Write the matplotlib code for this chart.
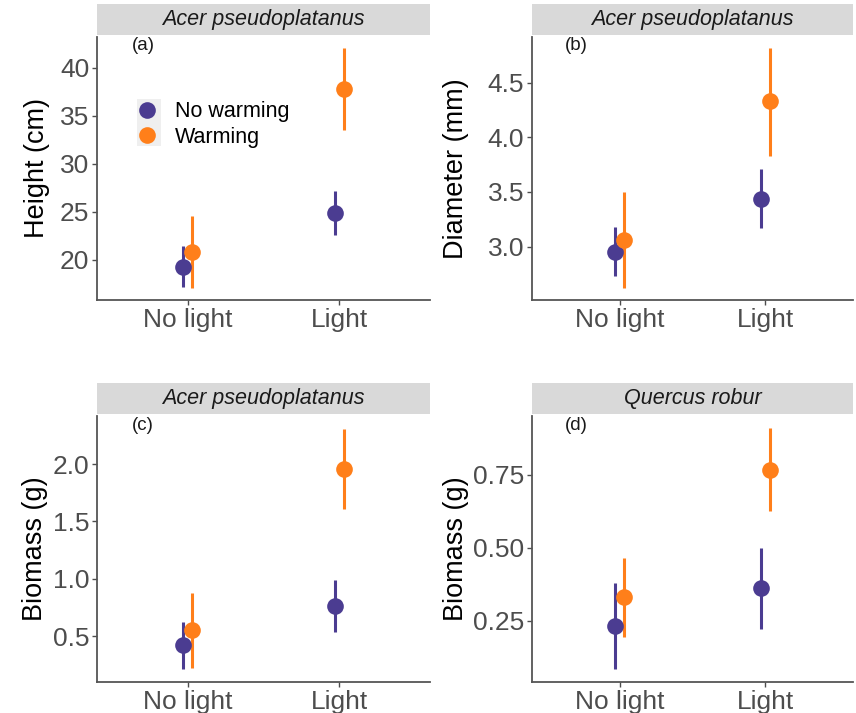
import numpy as np
import matplotlib
matplotlib.use("Agg")
import matplotlib.pyplot as plt
from matplotlib.patches import Rectangle

plt.rcParams['font.family'] = ['Liberation Sans', 'DejaVu Sans']

categories = ["No light", "Light"]
groups = ["No warming", "Warming"]
colors = {"No warming": "#4B3C91", "Warming": "#FF7F1A"}

# panel (a) height
height_mean = {"No warming": [19.2, 24.9], "Warming": [20.8, 37.8]}
height_lo = {"No warming": [17.2, 22.6], "Warming": [17.0, 33.5]}
height_hi = {"No warming": [21.4, 27.2], "Warming": [24.6, 42.1]}

# panel (b) diameter
diam_mean = {"No warming": [2.95, 3.44], "Warming": [3.06, 4.33]}
diam_lo = {"No warming": [2.73, 3.17], "Warming": [2.62, 3.83]}
diam_hi = {"No warming": [3.18, 3.71], "Warming": [3.50, 4.82]}

# panel (c) biomass acer
bio_acer_mean = {"No warming": [0.42, 0.76], "Warming": [0.55, 1.96]}
bio_acer_lo = {"No warming": [0.21, 0.54], "Warming": [0.22, 1.61]}
bio_acer_hi = {"No warming": [0.62, 0.99], "Warming": [0.88, 2.31]}

# panel (d) biomass quercus
bio_quer_mean = {"No warming": [0.233, 0.363], "Warming": [0.332, 0.767]}
bio_quer_lo = {"No warming": [0.085, 0.222], "Warming": [0.195, 0.627]}
bio_quer_hi = {"No warming": [0.38, 0.50], "Warming": [0.465, 0.91]}

panels = [
    dict(title="Acer pseudoplatanus", tag="(a)", ylabel="Height (cm)",
         mean=height_mean, lo=height_lo, hi=height_hi,
         ylim=(15.8, 43.2), yticks=[20, 25, 30, 35, 40], fmt="{:.0f}",
         rect=[97, 37, 430, 300], labx=37),
    dict(title="Acer pseudoplatanus", tag="(b)", ylabel="Diameter (mm)",
         mean=diam_mean, lo=diam_lo, hi=diam_hi,
         ylim=(2.51, 4.92), yticks=[3.0, 3.5, 4.0, 4.5], fmt="{:.1f}",
         rect=[532, 37, 853, 300], labx=456),
    dict(title="Acer pseudoplatanus", tag="(c)", ylabel="Biomass (g)",
         mean=bio_acer_mean, lo=bio_acer_lo, hi=bio_acer_hi,
         ylim=(0.10, 2.42), yticks=[0.5, 1.0, 1.5, 2.0], fmt="{:.1f}",
         rect=[97, 416, 430, 682], labx=35),
    dict(title="Quercus robur", tag="(d)", ylabel="Biomass (g)",
         mean=bio_quer_mean, lo=bio_quer_lo, hi=bio_quer_hi,
         ylim=(0.041, 0.952), yticks=[0.25, 0.50, 0.75], fmt="{:.2f}",
         rect=[532, 416, 853, 682], labx=456),
]

W, H = 856, 713
fig = plt.figure(figsize=(W / 100, H / 100), dpi=100)
dodge = {"No warming": -0.03, "Warming": 0.03}
xpos = np.arange(1, len(categories) + 1)

for p in panels:
    x0, y0, x1, y1 = p["rect"]
    ax = fig.add_axes([x0 / W, 1 - y1 / H, (x1 - x0) / W, (y1 - y0) / H])
    for g in groups:
        m = np.array(p["mean"][g])
        lo = np.array(p["lo"][g])
        hi = np.array(p["hi"][g])
        xs = xpos + dodge[g]
        ax.vlines(xs, lo, hi, color=colors[g], lw=2.2, zorder=2)
        ax.plot(xs, m, "o", color=colors[g], ms=12, mec="none", zorder=3, label=g)
    ax.set_xlim(0.4, 2.6)
    ax.set_ylim(*p["ylim"])
    ax.set_xticks(xpos)
    ax.set_xticklabels(categories)
    ax.set_yticks(p["yticks"])
    ax.set_yticklabels([p["fmt"].format(v) for v in p["yticks"]])
    ax.tick_params(axis="both", labelsize=19, colors="#4D4D4D", length=3.5,
                   width=1, pad=2)
    for s in ["top", "right"]:
        ax.spines[s].set_visible(False)
    for s in ["left", "bottom"]:
        ax.spines[s].set_color("#555555")
        ax.spines[s].set_linewidth(1.3)
    ax.set_ylabel(p["ylabel"], fontsize=19.5, color="black", va="center")
    ax.yaxis.set_label_coords((p["labx"] - x0) / (x1 - x0), 0.5)
    ax.text(0.138, 0.966, p["tag"], transform=ax.transAxes, fontsize=13.5,
            color="#1A1A1A", ha="center", va="center")
    # facet strip
    sax = fig.add_axes([x0 / W, 1 - (y0 - 2) / H, (x1 - x0) / W, 31 / H])
    sax.set_axis_off()
    sax.add_patch(Rectangle((0, 0), 1, 1, transform=sax.transAxes,
                            color="#D9D9D9", lw=0))
    sax.text(0.5, 0.5, p["title"], transform=sax.transAxes, ha="center",
             va="center", fontsize=15.5, style="italic", color="#1A1A1A")
    if p["tag"] == "(a)":
        # grey key background like ggplot legend keys
        ax.add_patch(Rectangle(((137 - x0) / (x1 - x0), (y1 - 146) / (y1 - y0)),
                               24 / (x1 - x0), 47 / (y1 - y0),
                               transform=ax.transAxes, color="#EFEFEF", lw=0,
                               zorder=1))
        ax.legend(loc="upper left", bbox_to_anchor=(0.118, 0.755),
                  frameon=False, fontsize=15.5, handletextpad=0.78,
                  borderaxespad=0, borderpad=0, labelspacing=0.2,
                  handlelength=1.0)

fig.savefig("out.png", dpi=100)
